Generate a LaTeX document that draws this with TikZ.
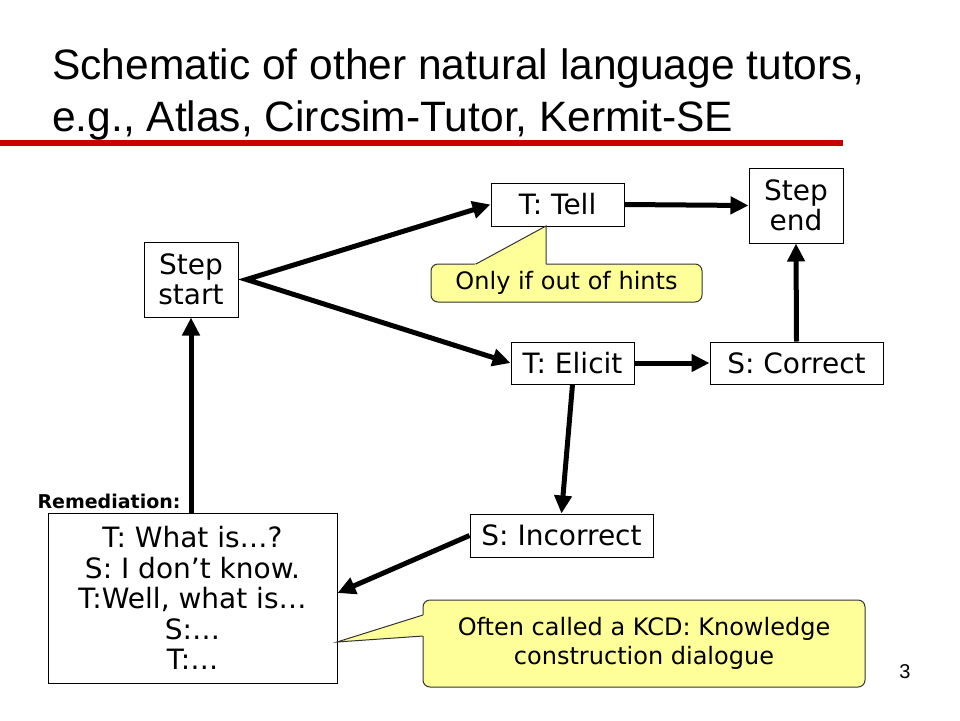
\documentclass[tikz,border=0pt]{standalone}
\usepackage{fontspec}
\setmainfont{DejaVu Sans}
\newfontfamily\titlefont{Liberation Sans}
\usetikzlibrary{arrows.meta,calc}
\definecolor{callyellow}{RGB}{255,255,153}
\definecolor{titlered}{RGB}{200,0,0}
\begin{document}
\begin{tikzpicture}[x=1pt,y=-1pt,
  box/.style={draw=black,line width=1pt,fill=white,align=center,inner sep=0pt,
    font=\fontsize{28}{30.5}\selectfont},
  arr/.style={line width=5pt,-{Triangle[length=18pt,width=17pt]}},
  callout/.style={draw=black!80,fill=callyellow,rounded corners=7pt,line width=1pt,
    align=center,inner sep=0pt,font=\fontsize{24}{29.5}\selectfont},
  pointer/.style={draw=black!80,line width=1pt,line join=miter}]
\useasboundingbox (0,0) rectangle (960,720);
\fill[white] (0,0) rectangle (960,720);

% title
\node[anchor=base west,inner sep=0pt,font=\titlefont\fontsize{42.5}{48}\selectfont] (title1) at (52,79) {Schematic of other natural language tutors,};
\node[anchor=base west,inner sep=0pt,font=\titlefont\fontsize{42.5}{48}\selectfont] (title2) at (52,131) {e.g., Atlas, Circsim-Tutor, Kermit-SE};
\draw[titlered,line width=5.5pt] (0,143) -- (843,143);

% boxes
\node[box,minimum width=94pt,minimum height=75pt] (start) at (191,279.5) {Step\\start};
\node[box,minimum width=133pt,minimum height=43pt] (tell) at (557.5,204.5) {T: Tell};
\node[box,minimum width=94pt,minimum height=75pt] (end) at (796,205.5) {Step\\end};
\node[box,minimum width=123pt,minimum height=42pt] (elicit) at (572.5,363) {T: Elicit};
\node[box,minimum width=173pt,minimum height=42pt] (correct) at (796.5,363) {S: Correct};
\node[box,minimum width=183pt,minimum height=43pt] (incorrect) at (561.5,535.5) {S: Incorrect};
\node[box,minimum width=289pt,minimum height=170pt] (rem) at (192.5,598) {T: What is…?\\S: I don’t know.\\T:Well, what is…\\S:…\\T:…};
\node[inner sep=0pt,font=\bfseries\fontsize{19}{22}\selectfont] (remlabel) at (109,501) {Remediation:};

% callouts
\node[callout,minimum width=271pt,minimum height=38pt] (hint) at (566.5,283) {Only if out of hints};
\fill[callyellow] (472.3,266) -- (546,226) -- (546,266) -- cycle;
\draw[pointer] (476,264) -- (546,226) -- (546,264);

\node[callout,minimum width=442pt,minimum height=87pt] (kcd) at (644,643.5) {Often called a KCD: Knowledge\\construction dialogue};
\fill[callyellow] (426,614.06) -- (337,642) -- (426,635.8) -- cycle;
\draw[pointer] (423,615) -- (337,642) -- (423,636);

% page number
\node[inner sep=0pt,font=\titlefont\fontsize{20}{24}\selectfont] (pnum) at (905,672) {3};

% arrows
\coordinate (vtip) at ([xshift=8pt]start.east);
\draw[line width=5pt,line join=miter,{Triangle[length=18pt,width=17pt]}-{Triangle[length=18pt,width=17pt]}] (tell.west) -- (vtip) -- (elicit.west);
\draw[arr] (tell.east) -- (end.west);
\draw[arr] (elicit.east) -- (correct.west);
\draw[arr] (correct.north) -- (end.south);
\draw[arr] (elicit.south) -- (incorrect.north);
\draw[arr] (incorrect.west) -- ([yshift=5pt]rem.east);
\draw[arr] (start.south |- rem.north) -- (start.south);
\end{tikzpicture}
\end{document}
